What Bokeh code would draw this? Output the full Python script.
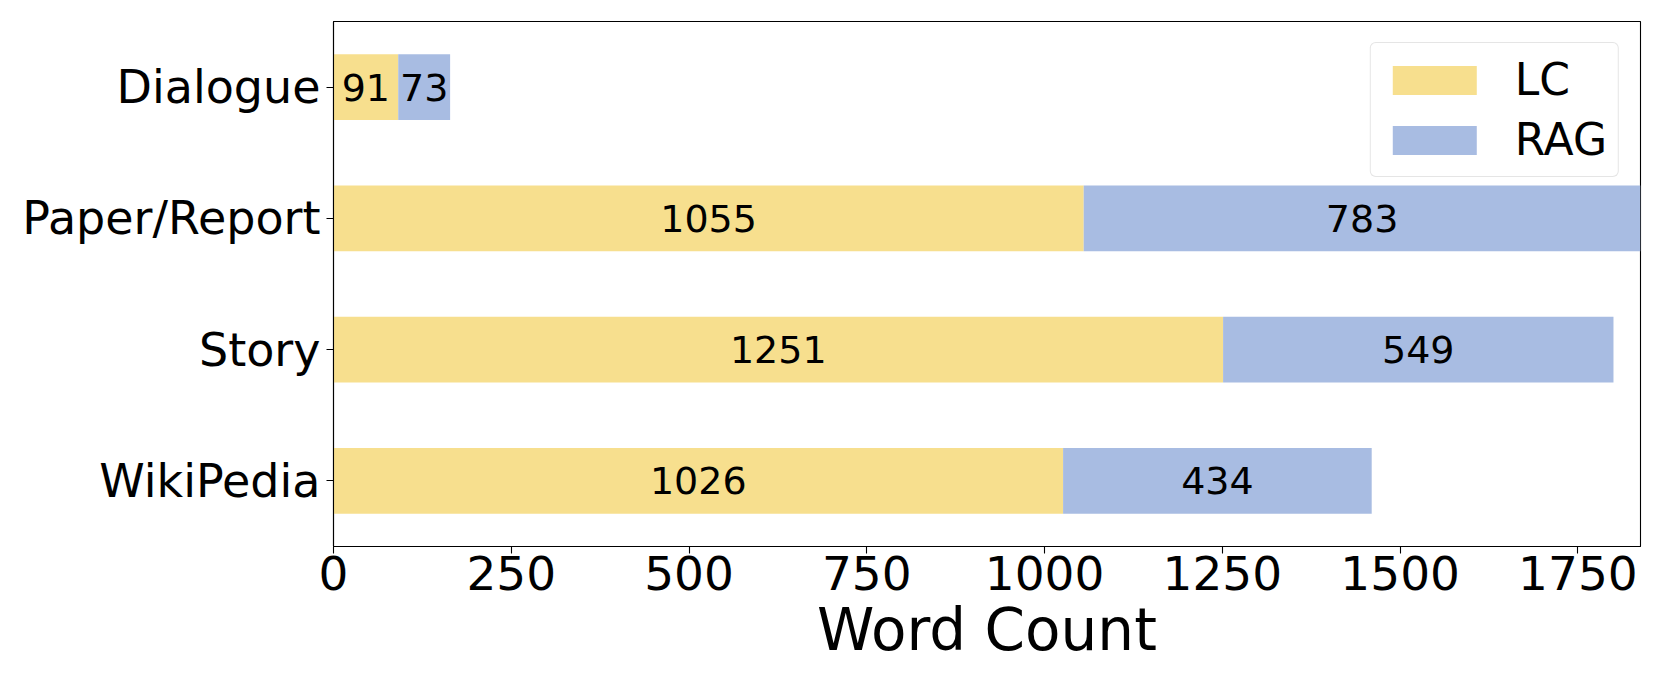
from bokeh.plotting import figure
from bokeh.models import ColumnDataSource, Range1d, FactorRange, FixedTicker, Legend
from bokeh.core.properties import value
from bokeh.embed import file_html
from bokeh.resources import INLINE

categories = ["Dialogue", "Paper/Report", "Story", "WikiPedia"]
lc_values = [91, 1055, 1251, 1026]
rag_values = [73, 783, 549, 434]
x_ticks = [0, 250, 500, 750, 1000, 1250, 1500, 1750]

FONT = "DejaVu Sans"
LC_COLOR = "#F7DF8E"
RAG_COLOR = "#A8BCE2"

order = list(reversed(categories))
xmax = max(a + b for a, b in zip(lc_values, rag_values))

p = figure(
    y_range=FactorRange(*order),
    x_range=Range1d(0, xmax),
    frame_width=1307, frame_height=525,
    min_border_left=333, min_border_right=13, min_border_top=21, min_border_bottom=136,
    output_backend="svg", toolbar_location=None,
)

src = ColumnDataSource(dict(
    cat=categories, LC=lc_values, RAG=rag_values,
    lc_mid=[v / 2 for v in lc_values],
    rag_mid=[a + b / 2 for a, b in zip(lc_values, rag_values)],
    lc_txt=[str(v) for v in lc_values],
    rag_txt=[str(v) for v in rag_values],
))

renderers = p.hbar_stack(["LC", "RAG"], y="cat", height=0.5, color=[LC_COLOR, RAG_COLOR],
                         line_color=None, source=src)

p.text(x="lc_mid", y="cat", text="lc_txt", source=src, text_align="center",
       text_baseline="middle", text_font=value(FONT), text_font_size="38px", text_color="black")
p.text(x="rag_mid", y="cat", text="rag_txt", source=src, text_align="center",
       text_baseline="middle", text_font=value(FONT), text_font_size="38px", text_color="black")

legend = Legend(items=[("LC", [renderers[0]]), ("RAG", [renderers[1]])],
                location="top_right")
legend.margin = 21
legend.padding = 11
legend.spacing = 9
legend.glyph_width = 105
legend.glyph_height = 36
legend.label_standoff = 28
legend.label_text_font = FONT
legend.label_text_font_size = "44px"
legend.label_text_color = "black"
legend.border_line_color = "#cccccc"
legend.border_line_width = 1.5
legend.border_radius = 6
legend.background_fill_alpha = 1.0
p.add_layout(legend)

p.grid.grid_line_color = None
p.outline_line_color = "black"
p.outline_line_width = 1.1

for ax in (p.xaxis[0], p.yaxis[0]):
    ax.axis_line_width = 1.1
    ax.axis_line_color = "black"
    ax.major_tick_in = 0
    ax.major_tick_out = 7
    ax.major_tick_line_width = 1.1
    ax.major_tick_line_color = "black"
    ax.minor_tick_line_color = None
    ax.major_label_text_font = FONT
    ax.major_label_text_color = "black"

p.xaxis.major_label_text_font_size = "47px"
p.yaxis.major_label_text_font_size = "46px"
p.xaxis.ticker = FixedTicker(ticks=x_ticks)
p.xaxis.major_label_standoff = 2
p.yaxis.major_label_standoff = 6
p.xaxis.axis_label = "Word Count"
p.xaxis.axis_label_text_font = FONT
p.xaxis.axis_label_text_font_size = "58px"
p.xaxis.axis_label_text_font_style = "normal"
p.xaxis.axis_label_text_color = "black"
p.xaxis.axis_label_standoff = 3

open("out.html", "w").write(file_html(p, INLINE))
